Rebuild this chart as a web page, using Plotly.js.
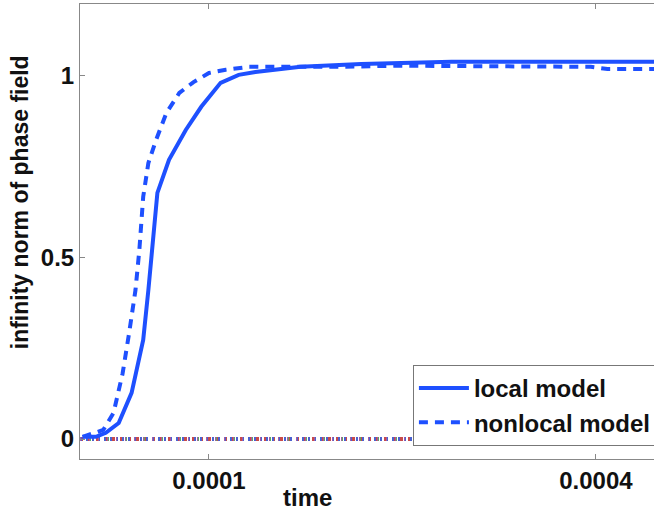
<!DOCTYPE html>
<html>
<head>
<meta charset="utf-8">
<script src="https://cdn.plot.ly/plotly-3.0.1.min.js"></script>
<style>html,body{margin:0;padding:0;background:#fff;}#chart{width:654px;height:514px;}</style>
</head>
<body>
<div id="chart"></div>
<script>
// local model (solid)
const localTime = [0.000002, 0.0000124, 0.000020, 0.000030, 0.000040, 0.000049, 0.000053, 0.000057, 0.000060, 0.000069, 0.000082, 0.000094, 0.000109, 0.000123, 0.000136, 0.000171, 0.000218, 0.000288, 0.000445];
const localNorm = [0.006, 0.006, 0.017, 0.044, 0.127, 0.273, 0.41, 0.548, 0.678, 0.769, 0.851, 0.915, 0.981, 1.003, 1.011, 1.025, 1.033, 1.039, 1.039];
// nonlocal model (dashed)
const nonlocalTime = [0.000002, 0.000018, 0.000026, 0.000033, 0.000038, 0.000043, 0.000046, 0.000049, 0.000053, 0.000059, 0.000067, 0.000077, 0.000088, 0.000100, 0.000113, 0.000131, 0.000153, 0.000197, 0.000249, 0.000396, 0.000409, 0.000446];
const nonlocalNorm = [0.006, 0.025, 0.072, 0.18, 0.29, 0.41, 0.52, 0.667, 0.76, 0.824, 0.898, 0.953, 0.983, 1.008, 1.017, 1.025, 1.025, 1.025, 1.028, 1.025, 1.019, 1.019];
// other (near-zero) runs
const zeroTime = [0, 0.00046];
const zeroNorm = [0, 0];
const zeroColors = ['#c84a4a', '#5fa85f', '#4a62d0', '#a45aa4'];
const zeroDashes = ['3px,5px', '2px,7px', '2px,4px', '1px,8px'];
const xTicks = [0.0001, 0.0004];
const xTickText = ['0.0001', '0.0004'];
const yTicks = [0, 0.5, 1];
const yTickText = ['0', '0.5', '1'];

const blue = '#1e50ff';
const fnt = {family: '"Liberation Sans", Arial, Helvetica, sans-serif', size: 24, color: '#111', weight: 700};
const yTitleFont = Object.assign({}, fnt, {size: 23});

const traces = [];
zeroColors.forEach((c, i) => {
  traces.push({x: zeroTime, y: zeroNorm, mode: 'lines', showlegend: false, hoverinfo: 'skip',
    line: {color: c, width: 4, dash: zeroDashes[i]}});
});
traces.push({x: localTime, y: localNorm, mode: 'lines', name: 'local model',
  line: {color: blue, width: 4}});
traces.push({x: nonlocalTime, y: nonlocalNorm, mode: 'lines', name: 'nonlocal model',
  line: {color: blue, width: 4, dash: '9px,7px'}});

const layout = {
  width: 654, height: 514,
  margin: {l: 80, r: 0, t: 4, b: 55, autoexpand: false},
  paper_bgcolor: '#fff', plot_bgcolor: '#fff',
  font: fnt,
  showlegend: true,
  legend: {x: 0.58, y: 0.2066, xanchor: 'left', yanchor: 'top', bgcolor: '#fff',
    bordercolor: '#777', borderwidth: 1, font: fnt, itemwidth: 50, tracegroupgap: 0,
    entrywidth: 230, entrywidthmode: 'pixels'},
  xaxis: {range: [0, 0.000445], tickvals: xTicks, ticktext: xTickText, ticks: 'inside', ticklen: 5,
    tickcolor: '#888', showline: true, linecolor: '#888', linewidth: 1, mirror: 'ticks',
    showgrid: false, zeroline: false, tickfont: fnt},
  yaxis: {range: [-0.055, 1.198], tickvals: yTicks, ticktext: yTickText, ticks: 'inside', ticklen: 5,
    tickcolor: '#888', showline: true, linecolor: '#888', linewidth: 1, mirror: false,
    showgrid: false, zeroline: false, tickfont: fnt},
  annotations: [
    {text: 'time', xref: 'paper', yref: 'paper', x: 0.397, y: -0.118, xanchor: 'center', yanchor: 'bottom',
      showarrow: false, font: fnt},
    {text: 'infinity norm of phase field', xref: 'paper', yref: 'paper', x: -0.104, y: 0.565,
      xanchor: 'center', yanchor: 'middle', textangle: -90, showarrow: false, font: yTitleFont}
  ]
};

Plotly.newPlot('chart', traces, layout, {displayModeBar: false, staticPlot: true});
</script>
</body>
</html>
